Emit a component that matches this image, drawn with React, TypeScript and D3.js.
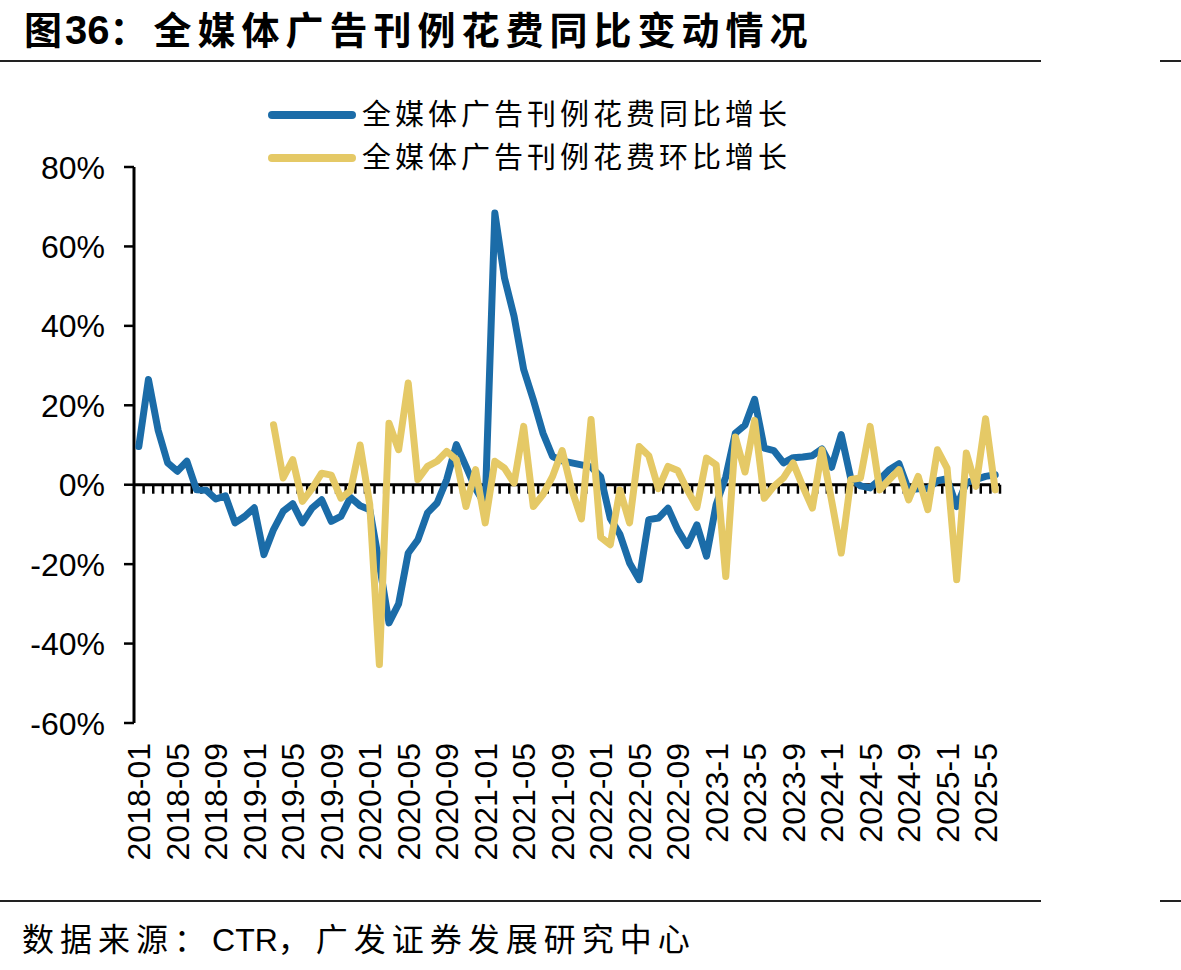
import React from 'react';
import * as d3 from 'd3';

// monthly categories, 2018-01 .. 2025-06 (format switches to single digit months from 2023)
const months: string[] = [];
for (let yr = 2018; yr <= 2025; yr++) {
  for (let m = 1; m <= 12; m++) {
    if (yr === 2025 && m > 6) break;
    months.push(yr < 2023 ? `${yr}-${String(m).padStart(2, '0')}` : `${yr}-${m}`);
  }
}

const tickLabels = [
  '2018-01', '2018-05', '2018-09', '2019-01', '2019-05', '2019-09', '2020-01',
  '2020-05', '2020-09', '2021-01', '2021-05', '2021-09', '2022-01', '2022-05',
  '2022-09', '2023-1', '2023-5', '2023-9', '2024-1', '2024-5', '2024-9',
  '2025-1', '2025-5',
];

const yTicks = [-60, -40, -20, 0, 20, 40, 60, 80];

// 同比 (%)
const yoy: number[] = [
  9.6, 26.5, 13.8, 5.5, 3.4, 5.9, -1.3, -1.4, -3.6, -2.8,
  -9.6, -8.0, -5.8, -17.6, -11.3, -6.7, -4.8, -9.6, -5.9, -3.8,
  -9.2, -8.0, -3.2, -5.3, -6.3, -20, -34.8, -30, -17.2, -13.9,
  -7.1, -4.6, 1.3, 10.1, 4.6, -1, -5, 68.4, 52.1, 42.4,
  29.0, 21.4, 13.0, 7.1, 6, 5.5, 5, 4.5, 2, -8.5,
  -12.5, -19.7, -23.9, -8.8, -8.4, -5.9, -11.3, -15.3, -10.1, -18,
  -5, 2, 13, 15, 21.5, 9.2, 8.6, 5.5, 6.8, 7.0,
  7.3, 9.0, 4.4, 12.6, 1.5, -0.3, -0.8, 1.3, 3.8, 5.3,
  -1.3, -1.0, -1.0, 1.0, 1.5, -5.5, 0.5, 1.3, 2.1, 2.5,
];

// 环比 (%)
const mom: (number | null)[] = [
  null, null, null, null, null, null, null, null, null, null,
  null, null, null, null, 15.1, 1.7, 6.3, -4.2, -1.0, 2.9,
  2.4, -3.4, -1.5, 10, -5, -45.3, 15.5, 8.8, 25.6, 1.3,
  4.6, 5.9, 8.4, 6.3, -5.5, 3.8, -9.6, 5.9, 4.2, 0.4,
  14.7, -5.5, -2.5, 2.1, 8.6, -1.3, -8.6, 16.4, -13.2, -15.1,
  -1.3, -9.6, 9.6, 7.3, -1.0, 4.6, 3.6, -1.3, -5.7, 6.7,
  5.0, -23.1, 12, 3.2, 16.2, -3.4, -0.4, 1.7, 5.5, -0.4,
  -5.9, 8.8, -4, -17.2, 1.3, 1.7, 14.7, -1.3, 1.3, 3.8,
  -3.8, 2.1, -6.3, 8.8, 4.2, -23.9, 8.0, -0.4, 16.6, -1.3,
];

const seriesNames = ['全媒体广告刊例花费同比增长', '全媒体广告刊例花费环比增长'];
const colors = ['#1B6CA8', '#E5C966'];

const W = 1181;
const H = 970;
const latin = '"Liberation Sans", Arial, sans-serif';
const cjk = '"Liberation Sans", "Noto Sans CJK SC", sans-serif';

export default function App() {
  const x = d3.scaleBand<string>().domain(months).range([134, 1000]).padding(0);
  const y = d3.scaleLinear().domain([-60, 80]).range([723, 167]);
  const cx = (i: number) => (x(months[i]) as number) + x.bandwidth() / 2;

  const line = d3
    .line<number | null>()
    .defined((d) => d != null)
    .x((_, i) => cx(i))
    .y((d) => y(d as number));

  const series = [yoy, mom];

  return (
    <svg width={W} height={H} style={{ position: 'absolute', left: 0, top: 0, background: '#fff' }}>
      {/* title */}
      <text x={24} y={44} fontFamily={cjk} fontWeight="bold" fontSize={38} fill="#000">
        <tspan>图</tspan>
        <tspan dx={3} fontSize={40}>36</tspan>
        <tspan letterSpacing={6}>：全媒体广告刊例花费同比变动情况</tspan>
      </text>
      <line x1={0} x2={1041} y1={61} y2={61} stroke="#222" strokeWidth={2} />
      <line x1={1160} x2={1181} y1={61} y2={61} stroke="#222" strokeWidth={2} />

      {/* legend */}
      {seriesNames.map((name, i) => (
        <g key={name} transform={`translate(0, ${115 + i * 43})`}>
          <line x1={272} x2={352} y1={0} y2={0} stroke={colors[i]} strokeWidth={8} strokeLinecap="round" />
          <text x={362} y={0} dy="0.36em" fontFamily={cjk} fontSize={29} letterSpacing={4} fill="#000">
            {name}
          </text>
        </g>
      ))}

      {/* y axis */}
      <line x1={134} x2={134} y1={y(80)} y2={y(-60)} stroke="#000" strokeWidth={3} />
      {yTicks.map((t) => (
        <g key={t}>
          <line x1={124} x2={134} y1={y(t)} y2={y(t)} stroke="#000" strokeWidth={2.5} />
          <text x={105} y={y(t)} dy="0.36em" textAnchor="end" fontFamily={latin} fontSize={32} fill="#000">
            {`${t}%`}
          </text>
        </g>
      ))}

      {/* x axis along zero */}
      <line x1={134} x2={1000} y1={y(0)} y2={y(0)} stroke="#000" strokeWidth={3} />
      {months.map((m) => (
        <line
          key={m}
          x1={(x(m) as number) + x.bandwidth()}
          x2={(x(m) as number) + x.bandwidth()}
          y1={y(0)}
          y2={y(0) + 9}
          stroke="#000"
          strokeWidth={2.5}
        />
      ))}
      {tickLabels.map((t) => {
        const px = (x(t) as number) + x.bandwidth() / 2;
        return (
          <text
            key={t}
            transform={`translate(${px}, 743) rotate(-90)`}
            dy="0.36em"
            textAnchor="end"
            fontFamily={latin}
            fontSize={32}
            fill="#000"
          >
            {t}
          </text>
        );
      })}

      {/* series */}
      {series.map((s, i) => (
        <path
          key={i}
          d={line(s) || ''}
          fill="none"
          stroke={colors[i]}
          strokeWidth={7}
          strokeLinejoin="round"
          strokeLinecap="round"
        />
      ))}

      {/* footer */}
      <line x1={0} x2={1041} y1={901} y2={901} stroke="#222" strokeWidth={2} />
      <line x1={1160} x2={1181} y1={901} y2={901} stroke="#222" strokeWidth={2} />
      <text x={22} y={951} fontFamily={cjk} fontSize={32} fill="#000">
        <tspan letterSpacing={6}>数据来源：</tspan>
        <tspan>CTR</tspan>
        <tspan letterSpacing={6}>，广发证券发展研究中心</tspan>
      </text>
    </svg>
  );
}
